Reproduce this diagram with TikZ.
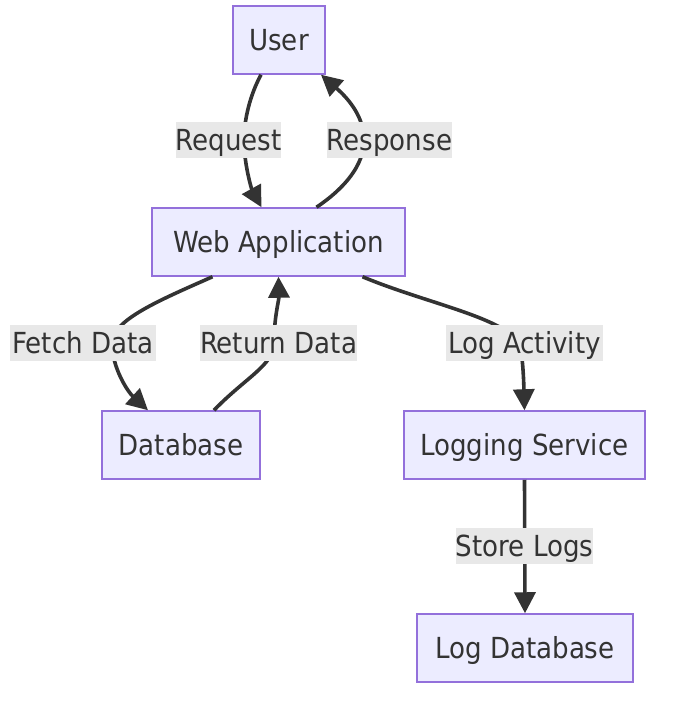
\documentclass[tikz,border=0pt]{standalone}
\usepackage{fontspec}
\setmainfont{DejaVu Sans Condensed}
\usetikzlibrary{arrows.meta}
\definecolor{nodefill}{HTML}{ECECFF}
\definecolor{nodeline}{HTML}{9370DB}
\definecolor{edgecol}{HTML}{333333}
\definecolor{lblbg}{HTML}{E8E8E8}
\tikzset{
  txt/.style={text=edgecol, font=\fontsize{29}{34}\selectfont, text height=24pt, text depth=3pt},
  box/.style={txt, draw=nodeline, fill=nodefill, line width=1.5pt, minimum height=68pt, inner sep=0pt},
  lbl/.style={txt, fill=lblbg, minimum height=36pt, inner sep=0pt},
  edge/.style={draw=edgecol, line width=3.6pt, -{Triangle[length=21pt,width=21pt]}},
}
\begin{document}
\begin{tikzpicture}[x=1pt,y=-1pt]
\useasboundingbox (0,0) rectangle (684,706);
\node[box, minimum width=92pt] (user) at (279,40) {User};
\node[box, minimum width=253pt] (web) at (278.5,242) {Web Application};
\node[box, minimum width=158pt] (db) at (181,445) {Database};
\node[box, minimum width=241pt] (logsvc) at (524.5,445) {Logging Service};
\node[box, minimum width=216pt] (logdb) at (525,648) {Log Database};

\draw[edge] ([xshift=-18pt]user.south) .. controls (250,95) and (244,120) .. (244,140) .. controls (244,165) and (252,190) .. ([xshift=-17pt]web.north);
\draw[edge] ([xshift=38pt]web.north) .. controls (345,188) and (364,165) .. (364,140) .. controls (364,118) and (350,100) .. ([xshift=42pt]user.south);
\draw[edge] ([xshift=-66pt]web.south) .. controls (160,300) and (112,320) .. (112,343) .. controls (112,368) and (128,392) .. ([xshift=-33pt]db.north);
\draw[edge] ([xshift=33pt]db.north) .. controls (245,378) and (274,365) .. (274,343) .. controls (274,318) and (279,300) .. (web.south);
\draw[edge] ([xshift=84pt]web.south) .. controls (430,305) and (518,320) .. (521,350) .. controls (524,372) and (524,395) .. (logsvc.north);
\draw[edge] (logsvc.south) -- (logdb.north);

\node[lbl, minimum width=103pt] (l1) at (228.5,140) {Request};
\node[lbl, minimum width=119pt] (l2) at (389.5,140) {Response};
\node[lbl, minimum width=146pt] (l3) at (83,343) {Fetch Data};
\node[lbl, minimum width=157pt] (l4) at (278.5,343) {Return Data};
\node[lbl, minimum width=157pt] (l5) at (524.5,343) {Log Activity};
\node[lbl, minimum width=137pt] (l6) at (524.5,546) {Store Logs};
\end{tikzpicture}
\end{document}
